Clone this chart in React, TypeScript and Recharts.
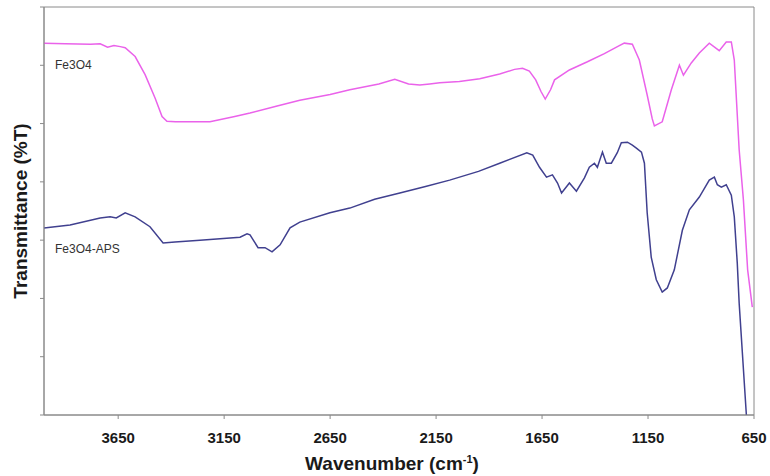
import React from "react";
import { LineChart, Line, XAxis, YAxis, ReferenceArea, Label } from "recharts";

// Fe3O4 spectrum (wavenumber cm-1, transmittance arbitrary units)
const fe3o4Wavenumbers = [4000, 3900, 3780, 3735, 3700, 3670, 3640, 3617, 3570, 3523, 3476, 3443, 3420, 3380, 3217, 3100, 3028, 2900, 2793, 2650, 2557, 2420, 2345, 2280, 2227, 2180, 2133, 2040, 1944, 1850, 1780, 1742, 1710, 1680, 1655, 1635, 1610, 1591, 1521, 1436, 1356, 1290, 1262, 1224, 1191, 1154, 1130, 1120, 1083, 1040, 1002, 983, 946, 908, 861, 814, 781, 757, 743, 720, 700, 680, 658];
const fe3o4Values = [63.8, 63.7, 63.6, 63.7, 63.1, 63.4, 63.2, 63.0, 61.5, 58.4, 54.4, 51.2, 50.4, 50.3, 50.3, 51.2, 51.8, 53.0, 54.0, 55.0, 55.8, 56.8, 57.6, 56.8, 56.6, 56.8, 57.0, 57.2, 57.7, 58.5, 59.3, 59.5, 59.0, 57.5, 55.5, 54.2, 55.8, 57.5, 59.2, 60.6, 62.0, 63.3, 63.8, 63.6, 60.9, 54.9, 50.8, 49.6, 50.3, 55.8, 60.0, 58.3, 60.4, 62.1, 63.8, 62.5, 64.0, 64.0, 60.9, 45.5, 36.9, 24.9, 18.5];

// Fe3O4-APS spectrum
const apsWavenumbers = [4000, 3877, 3735, 3688, 3659, 3617, 3570, 3500, 3438, 3382, 3264, 3075, 3042, 3028, 2990, 2957, 2924, 2886, 2839, 2793, 2651, 2557, 2440, 2321, 2200, 2086, 1950, 1850, 1722, 1694, 1662, 1629, 1601, 1577, 1558, 1521, 1488, 1450, 1427, 1403, 1389, 1365, 1347, 1323, 1295, 1276, 1247, 1224, 1205, 1181, 1167, 1154, 1135, 1111, 1083, 1059, 1026, 988, 955, 908, 861, 837, 823, 804, 781, 757, 743, 729, 720, 686];
const apsValues = [32.1, 32.6, 33.8, 34.0, 33.8, 34.7, 34.0, 32.3, 29.5, 29.7, 30.0, 30.5, 31.1, 30.9, 28.7, 28.7, 28.0, 29.2, 32.1, 33.1, 34.7, 35.5, 37.0, 38.1, 39.2, 40.3, 41.8, 43.2, 45.0, 44.6, 42.5, 40.8, 41.2, 39.8, 38.1, 39.8, 38.4, 40.7, 42.5, 43.2, 42.5, 45.1, 43.2, 43.2, 45.0, 46.7, 46.8, 46.3, 45.8, 45.1, 43.2, 34.7, 27.1, 23.2, 21.1, 21.8, 24.9, 31.7, 35.2, 37.4, 40.3, 40.8, 39.5, 39.1, 39.5, 37.7, 34.0, 26.1, 19.2, 0];

const xTicks = [3650, 3150, 2650, 2150, 1650, 1150, 650];
const yTicks = [0, 10, 20, 30, 40, 50, 60, 70];

const fe3o4Data = fe3o4Wavenumbers.map((w, i) => ({ w, v: fe3o4Values[i] }));
const apsData = apsWavenumbers.map((w, i) => ({ w, v: apsValues[i] }));

const FONT = "'Liberation Sans', Arial, sans-serif";
const AXIS = "#8a8a8a";

const XTitle = (props: any) => {
  const vb = props.viewBox || { x: 0, y: 0, width: 0, height: 0 };
  const cx = vb.x + vb.width / 2 - 7;
  return (
    <text x={cx} y={470} textAnchor="middle" fontFamily={FONT} fontWeight="bold" fontSize={19} fill="#1a1a1a">
      Wavenumber (cm
      <tspan dy={-7} fontSize={11}>-1</tspan>
      <tspan dy={7}>)</tspan>
    </text>
  );
};

const YTitle = (props: any) => {
  const vb = props.viewBox || { x: 0, y: 0, width: 0, height: 0 };
  const cy = vb.y + vb.height / 2;
  return (
    <text x={20} y={cy} transform={`rotate(-90, 20, ${cy})`} textAnchor="middle" dominantBaseline="central" fontFamily={FONT} fontWeight="bold" fontSize={19} fill="#1a1a1a">
      Transmittance (%T)
    </text>
  );
};

const EmptyTick = () => <g />;

export default function App() {
  return (
    <div style={{ position: "absolute", left: 0, top: 0, width: 770, height: 476, background: "#fff" }}>
      <LineChart width={770} height={476} margin={{ top: 7, right: 16, bottom: 21, left: 14 }}>
        <XAxis
          type="number"
          dataKey="w"
          domain={[650, 4000]}
          reversed
          ticks={xTicks}
          interval={0}
          allowDataOverflow
          stroke={AXIS}
          tickSize={4}
          tickMargin={13}
          height={40}
          tick={{ fontFamily: FONT, fontWeight: "bold", fontSize: 15, fill: "#1a1a1a" }}
        >
          <Label content={<XTitle />} />
        </XAxis>
        <YAxis
          type="number"
          domain={[0, 70]}
          ticks={yTicks}
          interval={0}
          allowDataOverflow
          stroke={AXIS}
          tickSize={4}
          width={30}
          tick={<EmptyTick />}
        >
          <Label content={<YTitle />} />
        </YAxis>
        <ReferenceArea x1={4000} x2={650} y1={0} y2={70} fill="none" stroke={AXIS} strokeWidth={1} ifOverflow="visible" />
        <Line data={fe3o4Data} dataKey="v" type="linear" stroke="#ea62ea" strokeWidth={1.5} dot={false} isAnimationActive={false} />
        <Line data={apsData} dataKey="v" type="linear" stroke="#40408f" strokeWidth={1.5} dot={false} isAnimationActive={false} />
        <text x={55} y={69} fontFamily={FONT} fontSize={12} fill="#333">Fe3O4</text>
        <text x={55} y={253} fontFamily={FONT} fontSize={12} fill="#333">Fe3O4-APS</text>
      </LineChart>
    </div>
  );
}
